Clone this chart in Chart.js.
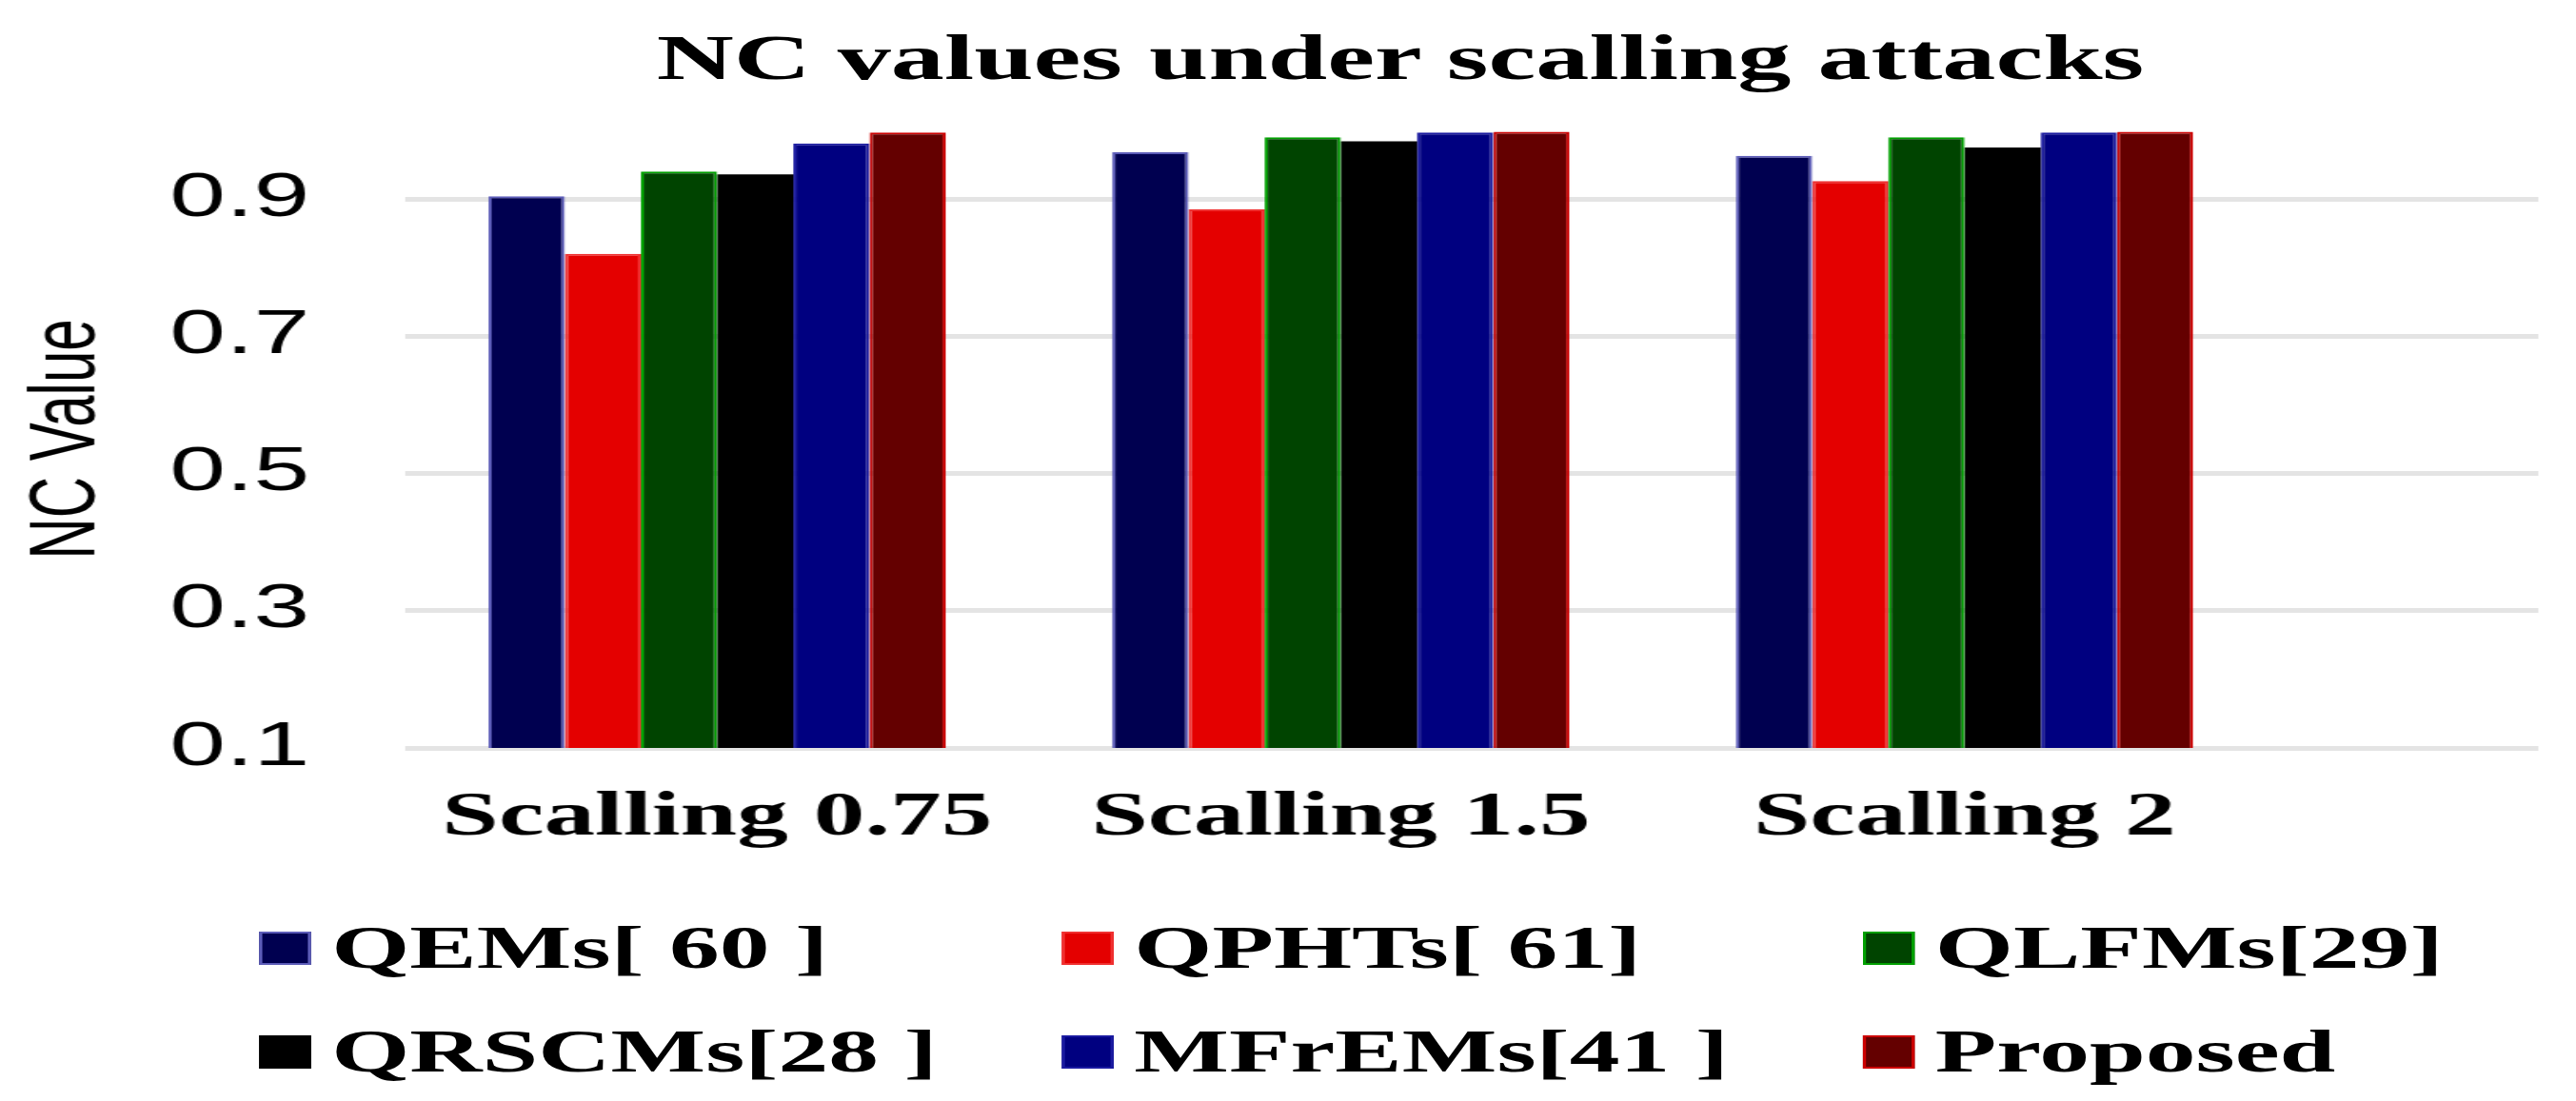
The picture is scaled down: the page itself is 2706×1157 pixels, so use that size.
<!DOCTYPE html>
<html>
<head>
<meta charset="utf-8">
<title>NC values under scalling attacks</title>
<script src="https://cdn.jsdelivr.net/npm/chart.js@4.4.1/dist/chart.umd.min.js"></script>
<style>
  html, body { margin: 0; padding: 0; background: #fff; overflow: hidden; }
  /* the source picture is stretched sideways, so the whole stage is too */
  #stage { position: relative; width: 1640px; height: 1157px; transform: scaleX(1.65); transform-origin: 0 0; }
  #title { position: absolute; left: 0; top: 26px; width: 1783px; text-align: center;
           font: bold 68px "Liberation Serif", serif; line-height: 1; white-space: nowrap; color: #000; }
  #chart { position: absolute; left: 0; top: 0; }
  .legend-item { position: absolute; display: flex; align-items: center; white-space: nowrap;
                 font: bold 64px "Liberation Serif", serif; line-height: 1; color: #000; }
  .legend-box { width: 33px; height: 35px; margin-right: 13px; box-sizing: border-box; border-style: solid; border-width: 2px; }
</style>
</head>
<body>
<div id="stage">
  <div id="title">NC values under scalling attacks</div>
  <canvas id="chart" width="1640" height="1157"></canvas>
  <div id="legend"></div>
</div>
<script>
// --- data ---
const categories = ['Scalling 0.75', 'Scalling 1.5', 'Scalling 2'];
const seriesNames = ['QEMs[ 60 ]', 'QPHTs[ 61]', 'QLFMs[29]', 'QRSCMs[28 ]', 'MFrEMs[41 ]', 'Proposed'];
const qems     = [0.904, 0.968, 0.963];
const qphts    = [0.820, 0.885, 0.926];
const qlfms    = [0.940, 0.990, 0.990];
const qrscms   = [0.936, 0.984, 0.975];
const mfrems   = [0.981, 0.997, 0.997];
const proposed = [0.997, 0.998, 0.998];
const yTicks = [0.1, 0.3, 0.5, 0.7, 0.9];

const fills   = ['#000050', '#e40000', '#004400', '#000000', '#000080', '#640000'];
const borders = ['#5c5cb8', '#f03030', '#00a000', '#000000', '#1a1aa0', '#cc0000'];

const seriesValues = [qems, qphts, qlfms, qrscms, mfrems, proposed];

// bars sit on a numeric x axis so the plot can run on past the last group
const datasets = seriesNames.map((name, s) => ({
  label: name,
  data: categories.map((c, i) => ({ x: i, y: seriesValues[s][i] })),
  backgroundColor: fills[s],
  borderColor: borders[s],
  borderWidth: s === 3 ? 0 : 2,
  categoryPercentage: 0.733,
  barPercentage: 1.0
}));

new Chart(document.getElementById('chart'), {
  type: 'bar',
  data: { datasets },
  options: {
    responsive: false,
    animation: false,
    layout: { padding: { top: 137, right: 24, bottom: 251, left: 0 } },
    plugins: {
      legend: { display: false },
      title: { display: false },
      tooltip: { enabled: false }
    },
    scales: {
      x: {
        type: 'linear',
        min: -0.5,
        max: 2.92,
        offset: false,
        grid: { display: false, drawTicks: false, offset: false },
        border: { display: false },
        afterBuildTicks: (s) => { s.ticks = categories.map((c, i) => ({ value: i })); },
        afterFit: (s) => { s.height = 120; },
        ticks: {
          callback: (v) => categories[v] ?? '',
          color: '#000',
          padding: 35,
          maxRotation: 0,
          autoSkip: false,
          font: { family: 'Liberation Serif', weight: 'bold', size: 65 }
        }
      },
      y: {
        min: 0.1,
        max: 1.0,
        afterBuildTicks: (s) => { s.ticks = yTicks.map(v => ({ value: v })); },
        afterFit: (s) => { s.width = 258; },
        grid: { color: '#e4e4e4', lineWidth: 5, drawTicks: false },
        border: { display: false },
        ticks: {
          callback: (v) => v.toFixed(1),
          color: '#000',
          padding: 61,
          font: { family: 'Liberation Sans', size: 64 }
        },
        title: {
          display: true,
          text: 'NC Value',
          color: '#000',
          padding: { top: 7, bottom: 0 },
          font: { family: 'Liberation Sans', size: 60 }
        }
      }
    }
  }
});

// --- legend: 3 columns x 2 rows under the plot ---
const legend = document.getElementById('legend');
const colLeft = [165, 676, 1186];
const rowTop = [964, 1073];
seriesNames.forEach((name, s) => {
  const item = document.createElement('div');
  item.className = 'legend-item';
  item.style.left = colLeft[s % 3] + 'px';
  item.style.top = rowTop[Math.floor(s / 3)] + 'px';
  const box = document.createElement('span');
  box.className = 'legend-box';
  box.style.background = fills[s];
  box.style.borderColor = borders[s];
  const text = document.createElement('span');
  text.textContent = name;
  item.appendChild(box);
  item.appendChild(text);
  legend.appendChild(item);
});
</script>
</body>
</html>
